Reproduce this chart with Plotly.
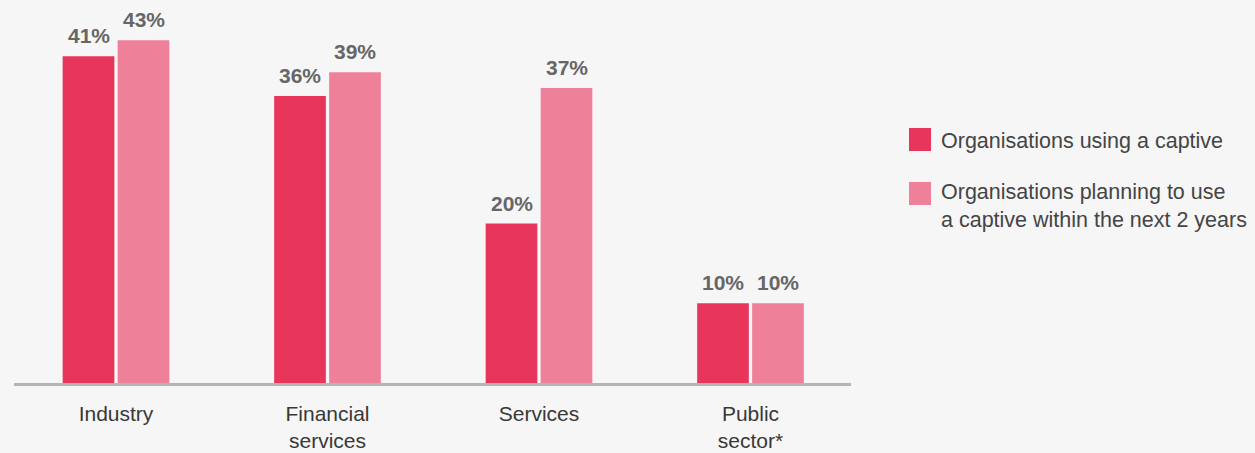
import plotly.graph_objects as go

categories = ["Industry", "Financial<br>services", "Services", "Public<br>sector*"]
using = [41, 36, 20, 10]
planning = [43, 39, 37, 10]
series_names = ["Organisations using a captive",
                "Organisations planning to use<br>a captive within the next 2 years"]
colors = ["#e8355b", "#ee8199"]

W, H = 1255, 453
FONT = "Liberation Sans, Arial, Helvetica, sans-serif"
BARGAP = 0.48

fig = go.Figure()
for vals, name, col in [(using, series_names[0], colors[0]), (planning, series_names[1], colors[1])]:
    fig.add_trace(go.Bar(
        x=list(range(len(categories))), y=vals, name=name, marker_color=col, marker_line_width=0,
        showlegend=False, hoverinfo="y",
    ))

# value labels above bars
half = (1 - BARGAP) / 4
for vals, sign in [(using, -1), (planning, 1)]:
    for i, v in enumerate(vals):
        fig.add_annotation(x=i + sign * half, y=v, xref="x", yref="y", text=f"<b>{v}%</b>",
                           showarrow=False, yanchor="bottom", yshift=7,
                           font=dict(family=FONT, size=21, color="#666666"))

# baseline
fig.add_shape(type="line", xref="paper", yref="paper", x0=14 / W, x1=851 / W,
              y0=1 - 384.5 / H, y1=1 - 384.5 / H, line=dict(color="#b4b4b4", width=3))

# manual legend
legend_rows = [(128, 151, 141), (182, 205, 206)]
for (y0, y1, yc), name, col in zip(legend_rows, series_names, colors):
    fig.add_shape(type="rect", xref="paper", yref="paper",
                  x0=909 / W, x1=931 / W, y0=1 - y1 / H, y1=1 - y0 / H,
                  fillcolor=col, line_width=0)
    fig.add_annotation(xref="paper", yref="paper", x=939 / W, y=1 - yc / H,
                       xanchor="left", yanchor="middle", align="left", showarrow=False,
                       text=name, font=dict(family=FONT, size=21.5, color="#444444"))

fig.update_layout(
    width=W, height=H,
    margin=dict(l=0, r=0, t=0, b=0),
    paper_bgcolor="#f6f6f6", plot_bgcolor="#f6f6f6",
    bargap=BARGAP, bargroupgap=0.06, barmode="group",
    xaxis=dict(domain=[10.25 / W, 856.25 / W], range=[-0.5, 3.5], showline=False,
               showgrid=False, zeroline=False, ticks="", tickmode="array",
               tickvals=list(range(len(categories))), ticktext=categories,
               ticklabelstandoff=16,
               tickfont=dict(family=FONT, size=21, color="#383838")),
    yaxis=dict(domain=[1 - 383 / H, 1], range=[0, 383 / 7.97], visible=False, showgrid=False),
)

fig.write_html("out.html")
